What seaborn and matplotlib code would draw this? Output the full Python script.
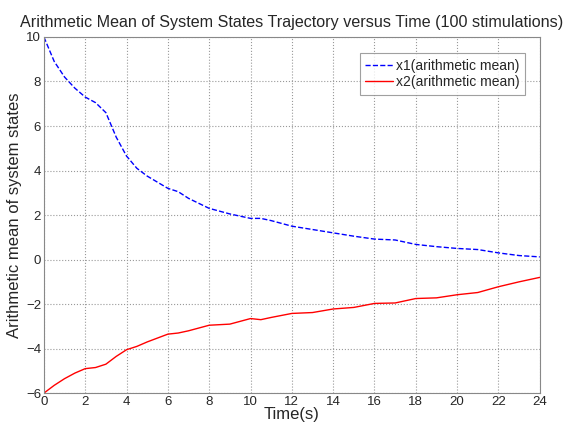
import pandas as pd
import matplotlib
matplotlib.use("Agg")
import matplotlib.pyplot as plt
import seaborn as sns

# time points (s) and arithmetic means
time = [0, 0.5, 1, 1.5, 2, 2.5, 3, 3.5, 4, 4.5, 5, 6, 6.5, 7, 8, 9, 10, 10.5, 11, 12, 13,
        14, 15, 16, 17, 18, 19, 20, 21, 22, 23, 24]
x1_mean = [10.0, 8.9, 8.2, 7.7, 7.3, 7.05, 6.6, 5.5, 4.65, 4.1, 3.75, 3.2, 3.05, 2.75,
           2.3, 2.05, 1.85, 1.85, 1.75, 1.5, 1.35, 1.2, 1.05, 0.92, 0.88, 0.68, 0.58,
           0.5, 0.45, 0.3, 0.18, 0.12]
x2_mean = [-6.0, -5.65, -5.35, -5.1, -4.9, -4.85, -4.7, -4.35, -4.05, -3.9, -3.7, -3.35,
           -3.3, -3.2, -2.95, -2.9, -2.65, -2.7, -2.6, -2.42, -2.38, -2.22, -2.15,
           -1.97, -1.95, -1.75, -1.72, -1.58, -1.48, -1.22, -1.0, -0.8]

df = pd.DataFrame({"t": time, "x1": x1_mean, "x2": x2_mean})

sns.set_style("white")
plt.rcParams["font.family"] = ["Liberation Sans", "DejaVu Sans"]

fig = plt.figure(figsize=(5.7, 4.25), dpi=100)
ax = fig.add_axes([0.077, 0.075, 0.87, 0.838])

sns.lineplot(data=df, x="t", y="x1", ax=ax, color="#0000ff", linestyle="--",
             linewidth=1.0, label="x1(arithmetic mean)")
sns.lineplot(data=df, x="t", y="x2", ax=ax, color="#ff0000", linestyle="-",
             linewidth=1.0, label="x2(arithmetic mean)")

ax.set_xlim(0, 24)
ax.set_ylim(-6, 10)
ax.set_xticks(range(0, 25, 2))
ax.set_yticks(range(-6, 11, 2))
ax.grid(True, linestyle=":", color="#999999", linewidth=0.8)
for s in ax.spines.values():
    s.set_color("#888888")
    s.set_linewidth(0.8)
ax.tick_params(labelsize=9.5, length=3, direction="in", color="#888888", pad=2)

ax.set_title("Arithmetic Mean of System States Trajectory versus Time (100 stimulations)",
             fontsize=11.6, pad=7)
ax.set_xlabel("Time(s)", fontsize=12, labelpad=-1)
ax.set_ylabel("Arithmetic mean of system states", fontsize=12, labelpad=3)

leg = ax.legend(loc="upper right", bbox_to_anchor=(0.97, 0.955), fontsize=10,
                frameon=True, fancybox=False, handlelength=2.0, handletextpad=0.2,
                borderpad=0.4, labelspacing=0.2, borderaxespad=0)
leg.get_frame().set_edgecolor("#888888")
leg.get_frame().set_linewidth(0.8)

fig.savefig("out.png", dpi=100)
